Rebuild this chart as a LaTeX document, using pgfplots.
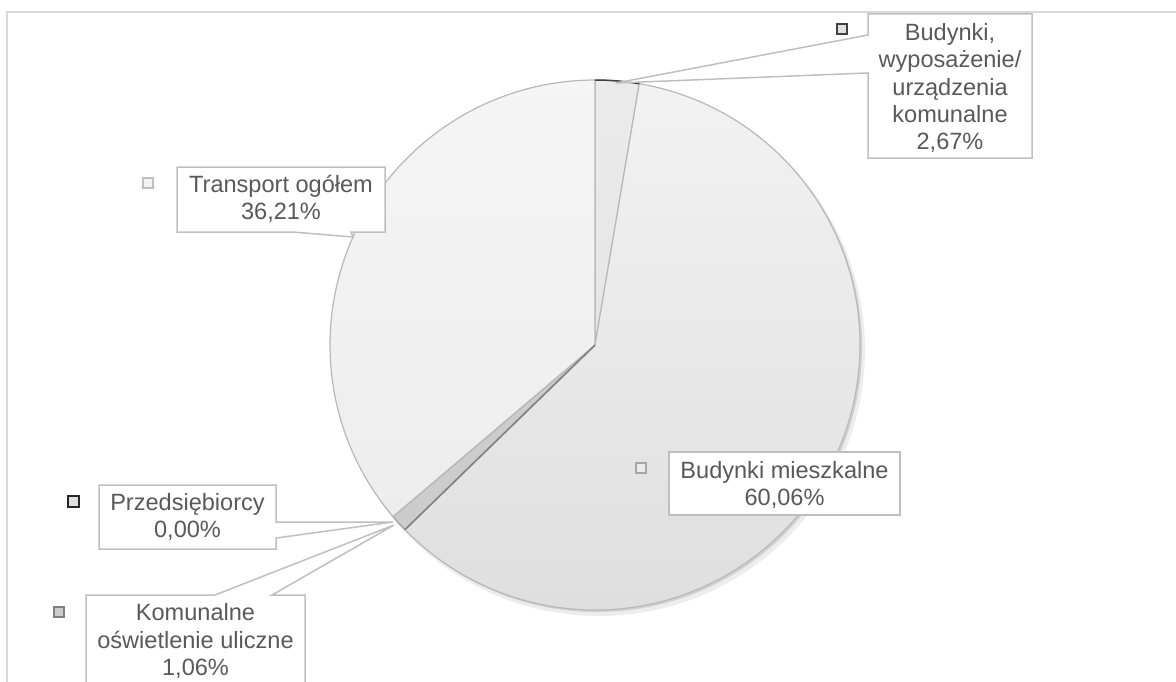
\documentclass[border=0pt]{standalone}
\usepackage{fontspec}
\setmainfont{Liberation Sans}
\usepackage{pgfplots}
\pgfplotsset{compat=1.18}
\usepackage{pgfplotstable}

\definecolor{ctext}{HTML}{595959}
\definecolor{cbox}{HTML}{BFBFBF}
\definecolor{cframe}{HTML}{D9D9D9}
\definecolor{cedge}{HTML}{B8B8B8}

\pgfplotstableread[col sep=comma]{
name,value
komunalne,2.67
mieszkalne,60.06
przeds,0.00
oswietlenie,1.06
transport,36.21
}\piedata

\newcommand\lbl{\fontsize{6.7}{7.8}\selectfont}
\newcommand\pct[1]{\pgfmathprintnumber[fixed,precision=2,fixed zerofill,use comma,assume math mode=true]{#1}\%}

\begin{document}
\begin{tikzpicture}
\pgfplotstablegetelem{0}{value}\of\piedata \let\vA\pgfplotsretval
\pgfplotstablegetelem{1}{value}\of\piedata \let\vB\pgfplotsretval
\pgfplotstablegetelem{2}{value}\of\piedata \let\vC\pgfplotsretval
\pgfplotstablegetelem{3}{value}\of\piedata \let\vD\pgfplotsretval
\pgfplotstablegetelem{4}{value}\of\piedata \let\vE\pgfplotsretval
\pgfmathsetmacro\aO{90}
\pgfmathsetmacro\aA{90-3.6*\vA}
\pgfmathsetmacro\aB{\aA-3.6*\vB}
\pgfmathsetmacro\aC{\aB-3.6*\vC}
\pgfmathsetmacro\aD{\aC-3.6*\vD}
\pgfmathsetmacro\aE{\aD-3.6*\vE}
\useasboundingbox (0,0) rectangle (11.76,6.81);
\clip (0,0) rectangle (11.76,6.81);
\begin{axis}[
  scale only axis, width=11.76cm, height=6.81cm,
  xmin=0, xmax=1176, ymin=0, ymax=681, y dir=reverse,
  hide axis, clip=false,
]
% frame
\draw[cframe, line width=0.02cm] (axis cs:7,720) -- (axis cs:7,12) -- (axis cs:1200,12);
% shadow
\fill[black, opacity=0.07] (axis cs:599,350) circle[radius=2.66cm];
\fill[black, opacity=0.12] (axis cs:597,347) circle[radius=2.65cm];
% slices
\path[top color=white!92!black, bottom color=white!90!black, draw=cedge, line width=0.012cm]
  (axis cs:595,345) -- ++(\aO:2.65cm) arc[start angle=\aO, end angle=\aA, radius=2.65cm] -- cycle;
\path[top color=white!95!black, bottom color=white!87!black, draw=cedge, line width=0.012cm]
  (axis cs:595,345) -- ++(\aA:2.65cm) arc[start angle=\aA, end angle=\aB, radius=2.65cm] -- cycle;
\path[fill=white!80!black, draw=white!62!black, line width=0.012cm]
  (axis cs:595,345) -- ++(\aC:2.65cm) arc[start angle=\aC, end angle=\aD, radius=2.65cm] -- cycle;
\path[top color=white!96!black, bottom color=white!93!black, draw=cedge, line width=0.012cm]
  (axis cs:595,345) -- ++(\aD:2.65cm) arc[start angle=\aD, end angle=\aE, radius=2.65cm] -- cycle;
% zero slice (Przedsiebiorcy)
\draw[white!50!black, line width=0.015cm] (axis cs:595,345) -- ++(\aB:2.65cm);
\draw[white!25!black, line width=0.015cm] (axis cs:595,345) ++(\aO:2.65cm) arc[start angle=\aO, end angle=\aA, radius=2.65cm];

% callouts
\filldraw[fill=white, draw=cbox, line width=0.015cm]
  (axis cs:868,14) -- (axis cs:1032,14) -- (axis cs:1032,158) -- (axis cs:868,158)
  -- (axis cs:868,73) -- (axis cs:616,83) -- (axis cs:868,35) -- cycle;
\node[text=ctext, font=\lbl, align=center] at (axis cs:950,88)
  {Budynki,\\wyposażenie/\\urządzenia\\komunalne\\\pct{\vA}};

\filldraw[fill=white, draw=cbox, line width=0.015cm]
  (axis cs:177,167) -- (axis cs:385,167) -- (axis cs:385,232) -- (axis cs:351,232)
  -- (axis cs:353,237) -- (axis cs:293,232) -- (axis cs:177,232) -- cycle;
\node[text=ctext, font=\lbl, align=center] at (axis cs:281,199)
  {Transport ogółem\\\pct{\vE}};

\filldraw[fill=white, draw=cbox, line width=0.015cm]
  (axis cs:669,452) rectangle (axis cs:900,515);
\node[text=ctext, font=\lbl, align=center] at (axis cs:784.5,485)
  {Budynki mieszkalne\\\pct{\vB}};

\filldraw[fill=white, draw=cbox, line width=0.015cm]
  (axis cs:99,485) -- (axis cs:276,485) -- (axis cs:276,522) -- (axis cs:393,522)
  -- (axis cs:276,538) -- (axis cs:276,549) -- (axis cs:99,549) -- cycle;
\node[text=ctext, font=\lbl, align=center] at (axis cs:187.5,517)
  {Przedsiębiorcy\\\pct{\vC}};

\filldraw[fill=white, draw=cbox, line width=0.015cm]
  (axis cs:86,595) -- (axis cs:215,595) -- (axis cs:394,525) -- (axis cs:272,595)
  -- (axis cs:305,595) -- (axis cs:305,720) -- (axis cs:86,720) -- cycle;
\node[text=ctext, font=\lbl, align=center] at (axis cs:195.5,641)
  {Komunalne\\oświetlenie uliczne\\\pct{\vD}};

% legend keys
\filldraw[fill=white!88!black, draw=white!25!black, line width=0.015cm]
  (axis cs:842,29) ++(-0.05cm,-0.05cm) rectangle ++(0.1cm,0.1cm);
\filldraw[fill=white!95!black, draw=cbox, line width=0.015cm]
  (axis cs:148,183) ++(-0.05cm,-0.05cm) rectangle ++(0.1cm,0.1cm);
\filldraw[fill=white!92!black, draw=white!65!black, line width=0.015cm]
  (axis cs:641,468) ++(-0.05cm,-0.05cm) rectangle ++(0.1cm,0.1cm);
\filldraw[fill=white!88!black, draw=white!15!black, line width=0.02cm]
  (axis cs:73,501) ++(-0.055cm,-0.055cm) rectangle ++(0.11cm,0.11cm);
\filldraw[fill=white!80!black, draw=white!50!black, line width=0.015cm]
  (axis cs:59,612) ++(-0.05cm,-0.05cm) rectangle ++(0.1cm,0.1cm);
\end{axis}
\end{tikzpicture}
\end{document}
